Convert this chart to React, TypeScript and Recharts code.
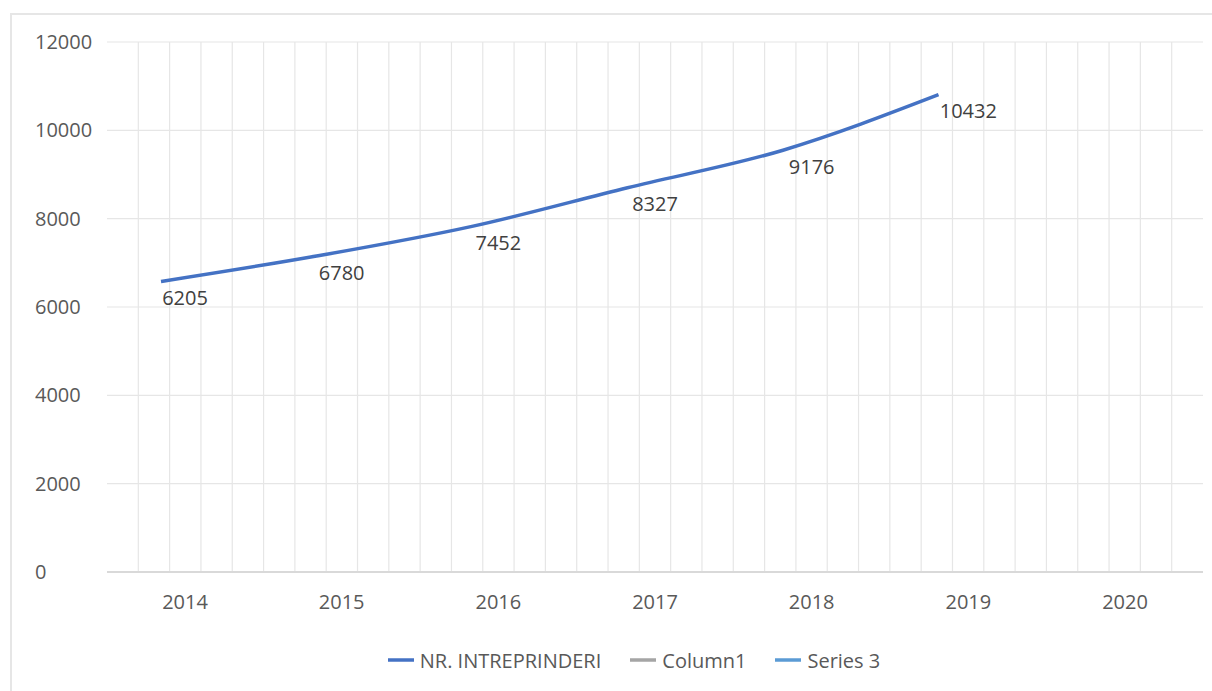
import { LineChart, Line, XAxis, YAxis, CartesianGrid, Legend, LabelList } from 'recharts'

const years = ['2014', '2015', '2016', '2017', '2018', '2019', '2020']
const firms = [6205, 6780, 7452, 8327, 9176, 10432, null]
const column1 = [null, null, null, null, null, null, null]
const series3 = [null, null, null, null, null, null, null]
const seriesNames = ['NR. INTREPRINDERI', 'Column1', 'Series 3']
const yTicks = [0, 2000, 4000, 6000, 8000, 10000, 12000]

const data = years.map((year, i) => ({
  year,
  firms: firms[i],
  column1: column1[i],
  series3: series3[i],
}))

const FONT = "'Open Sans', 'Segoe UI', sans-serif"
const TEXT = '#595959'

const YTick = ({ y, payload }: any) => (
  <text x={35} y={y} dy="0.35em" textAnchor="start" fill={TEXT} fontSize={20} fontFamily={FONT}>
    {payload.value}
  </text>
)

const XTick = ({ x, y, payload }: any) => (
  <text x={x} y={y} dy="0.35em" textAnchor="middle" fill={TEXT} fontSize={20} fontFamily={FONT}>
    {payload.value}
  </text>
)

const LegendBox = ({ payload }: any) => {
  const items = (payload || [])
    .filter((p: any) => seriesNames.includes(p.value))
    .sort((a: any, b: any) => seriesNames.indexOf(a.value) - seriesNames.indexOf(b.value))
  return (
    <div
      style={{
        height: 30,
        display: 'flex',
        justifyContent: 'center',
        alignItems: 'center',
        marginLeft: 65,
        fontFamily: FONT,
        fontSize: 20,
        color: TEXT,
      }}
    >
      {items.map((p: any, i: number) => (
        <div
          key={p.value}
          style={{ display: 'flex', alignItems: 'center', marginRight: i === items.length - 1 ? 0 : 29 }}
        >
          <svg width={26} height={10} style={{ marginRight: 6 }}>
            <line x1={0} x2={26} y1={5} y2={5} stroke={p.color} strokeWidth={3.5} />
          </svg>
          <span>{p.value}</span>
        </div>
      ))}
    </div>
  )
}

export default function App() {
  return (
    <div style={{ position: 'absolute', left: 0, top: 0, width: 1212, height: 691, background: '#fff' }}>
      <div
        style={{
          position: 'absolute',
          left: 10,
          top: 13,
          width: 1210,
          height: 690,
          borderTop: '2px solid #e6e6e6',
          borderLeft: '2px solid #e6e6e6',
        }}
      />
      <LineChart width={1212} height={691} data={data} margin={{ top: 42, right: 9, bottom: 16, left: 0 }}>
        <CartesianGrid
          xAxisId="cat"
          yAxisId="val"
          stroke="#e6e6e6"
          strokeWidth={1.2}
          verticalCoordinatesGenerator={({ offset }: any) => {
            const left = offset?.left ?? 107
            const width = offset?.width ?? 1096
            return Array.from({ length: 34 }, (_, k) => left + (width * (k + 1)) / 35)
          }}
        />
        <XAxis
          xAxisId="cat"
          dataKey="year"
          scale="point"
          padding={{ left: 78, right: 78 }}
          height={73}
          tickLine={false}
          tickSize={0}
          tickMargin={30}
          axisLine={{ stroke: '#d9d9d9', strokeWidth: 2 }}
          tick={<XTick />}
          interval={0}
        />
        <XAxis xAxisId="shift" dataKey="year" scale="point" padding={{ left: 54, right: 109 }} hide />
        <YAxis
          yAxisId="val"
          domain={[0, 12000]}
          ticks={yTicks}
          width={107}
          axisLine={false}
          tickLine={false}
          tick={<YTick />}
        />
        <YAxis yAxisId="shift" domain={[-374, 11626]} allowDataOverflow hide />
        <Legend verticalAlign="bottom" content={<LegendBox />} />
        <Line
          xAxisId="shift"
          yAxisId="shift"
          type="monotone"
          dataKey="firms"
          name={seriesNames[0]}
          stroke="#4472C4"
          strokeWidth={3.5}
          dot={false}
          isAnimationActive={false}
        />
        <Line
          xAxisId="cat"
          yAxisId="val"
          dataKey="column1"
          name={seriesNames[1]}
          stroke="#A5A5A5"
          strokeWidth={3.5}
          dot={false}
          isAnimationActive={false}
        />
        <Line
          xAxisId="cat"
          yAxisId="val"
          dataKey="series3"
          name={seriesNames[2]}
          stroke="#5B9BD5"
          strokeWidth={3.5}
          dot={false}
          isAnimationActive={false}
        />
        <Line
          xAxisId="cat"
          yAxisId="val"
          dataKey="firms"
          name="labels"
          stroke="none"
          dot={false}
          legendType="none"
          isAnimationActive={false}
        >
          <LabelList dataKey="firms" position="center" fill="#404040" fontSize={20} fontFamily={FONT} />
        </Line>
      </LineChart>
    </div>
  )
}
